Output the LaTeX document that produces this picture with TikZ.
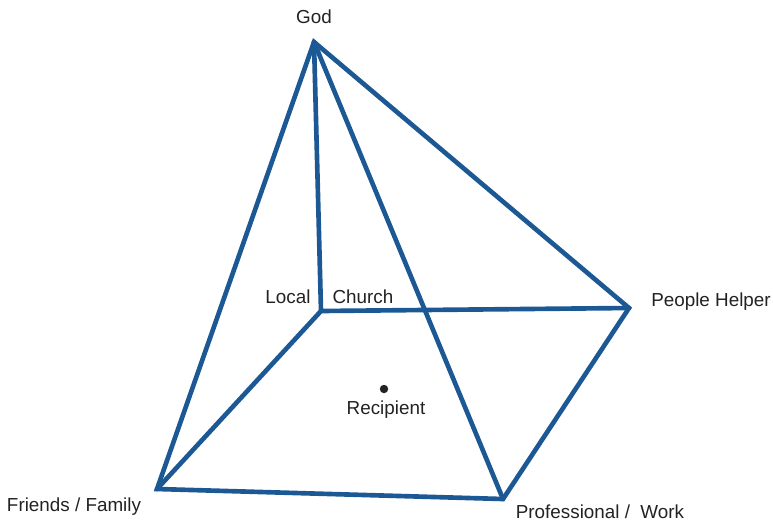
\documentclass[tikz,border=0pt]{standalone}
\usepackage{fontspec}
\setmainfont{Liberation Sans}
\usetikzlibrary{positioning}

\definecolor{pyrblue}{HTML}{1C5894}
\definecolor{txtgray}{HTML}{222222}

\begin{document}
\begin{tikzpicture}[
  x=0.025cm,
  y=-0.025cm,
  edge/.style={
    draw=pyrblue,
    line width=3.3pt,
    line join=miter
  },
  inner/.style={
    draw=pyrblue,
    line width=3.3pt,
    line cap=round
  },
  label/.style={
    inner sep=0pt,
    text=txtgray,
    font=\fontsize{13.4}{16}\selectfont
  }
]

\path[use as bounding box] (0,0) rectangle (773,521);
\coordinate (god) at (314,42);
\coordinate (church) at (321,311);
\coordinate (helper) at (629,308);
\coordinate (family) at (157,489);
\coordinate (work) at (503,499);
\coordinate (center) at (384,389);

\node[label] (godlbl) at (314,17) {God};
\node[label] (locallbl) at (288,297) {Local};
\node[label] (churchlbl) at (363,297) {Church};
\node[label] (helperlbl) at (711,302) {People Helper};
\node[label] (recipientlbl) at (386,410) {Recipient};
\node[label] (familylbl) at (74,507) {Friends / Family};
\node[label] (worklbl) at (600,512) {Professional /\ \ Work};

\draw[edge] (god) -- (helper) -- (work) -- (family) -- cycle;
\draw[inner] (god) -- (church);
\draw[inner] (god) -- (work);
\draw[inner] (family) -- (church) -- (helper);

\fill[txtgray] (center) circle (4.2);

\end{tikzpicture}
\end{document}
